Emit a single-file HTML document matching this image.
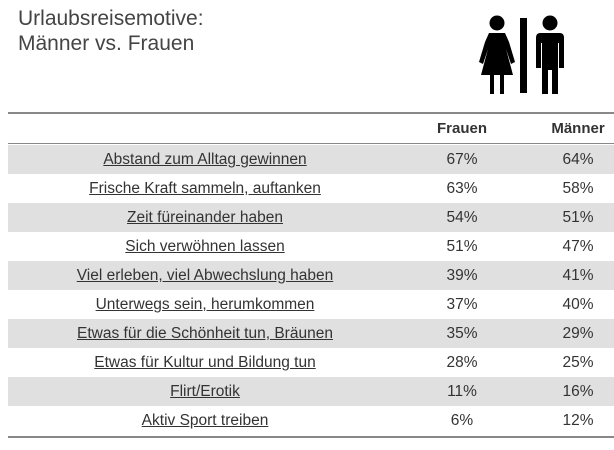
<!DOCTYPE html>
<html><head><meta charset="utf-8"><style>
body{margin:0;width:614px;height:450px;background:#fff;position:relative;overflow:hidden;font-family:"Liberation Sans",sans-serif;color:#333}
.t{position:absolute;left:18px;top:6px;font-size:21px;line-height:25px;color:#444}
.line{position:absolute;left:8px;width:606px;height:2px;background:#888}
.row{position:absolute;left:8px;width:606px;height:29px;font-size:15.5px;line-height:29px}
.g{background:#e0e0e0}
.row span{position:absolute;text-align:center}
.l{left:0;width:394px;text-decoration:underline}
.f{left:424px;width:60px}
.m{left:540px;width:60px}
b{font-weight:bold}
</style></head><body>
<div class="t">Urlaubsreisemotive:<br>Männer vs. Frauen</div>
<svg style="position:absolute;left:475px;top:12px" width="100" height="85">
<g fill="#000">
<circle cx="22" cy="11" r="7.5"/>
<polygon points="14,21 30,21 34,30 40,50 36,52 31,37 38,63 29,63 29,82 25,82 25,63 19,63 19,82 15,82 15,63 6,63 13,37 8,52 4,50 10,30"/>
<rect x="45" y="6" width="7" height="75"/>
<circle cx="75" cy="11" r="7.5"/>
<path d="M65,21 H85 Q89,21 89,26 V56 H84 V31 H83 V82 H77 V58 H73 V82 H67 V31 H66 V56 H61 V26 Q61,21 65,21Z"/>
</g></svg>
<div class="line" style="top:112px"></div>
<div class="row" style="top:114px;font-size:15px"><span class="f"><b>Frauen</b></span><span class="m"><b>Männer</b></span></div>
<div class="line" style="top:143px;height:1px"></div>
<div class="row g" style="top:145px"><span class="l">Abstand zum Alltag gewinnen</span><span class="f">67%</span><span class="m">64%</span></div>
<div class="row" style="top:174px"><span class="l">Frische Kraft sammeln, auftanken</span><span class="f">63%</span><span class="m">58%</span></div>
<div class="row g" style="top:203px"><span class="l">Zeit füreinander haben</span><span class="f">54%</span><span class="m">51%</span></div>
<div class="row" style="top:232px"><span class="l">Sich verwöhnen lassen</span><span class="f">51%</span><span class="m">47%</span></div>
<div class="row g" style="top:261px"><span class="l">Viel erleben, viel Abwechslung haben</span><span class="f">39%</span><span class="m">41%</span></div>
<div class="row" style="top:290px"><span class="l">Unterwegs sein, herumkommen</span><span class="f">37%</span><span class="m">40%</span></div>
<div class="row g" style="top:319px"><span class="l">Etwas für die Schönheit tun, Bräunen</span><span class="f">35%</span><span class="m">29%</span></div>
<div class="row" style="top:348px"><span class="l">Etwas für Kultur und Bildung tun</span><span class="f">28%</span><span class="m">25%</span></div>
<div class="row g" style="top:377px"><span class="l">Flirt/Erotik</span><span class="f">11%</span><span class="m">16%</span></div>
<div class="row" style="top:406px"><span class="l">Aktiv Sport treiben</span><span class="f">6%</span><span class="m">12%</span></div>
<div class="line" style="top:436px"></div>
</body></html>
